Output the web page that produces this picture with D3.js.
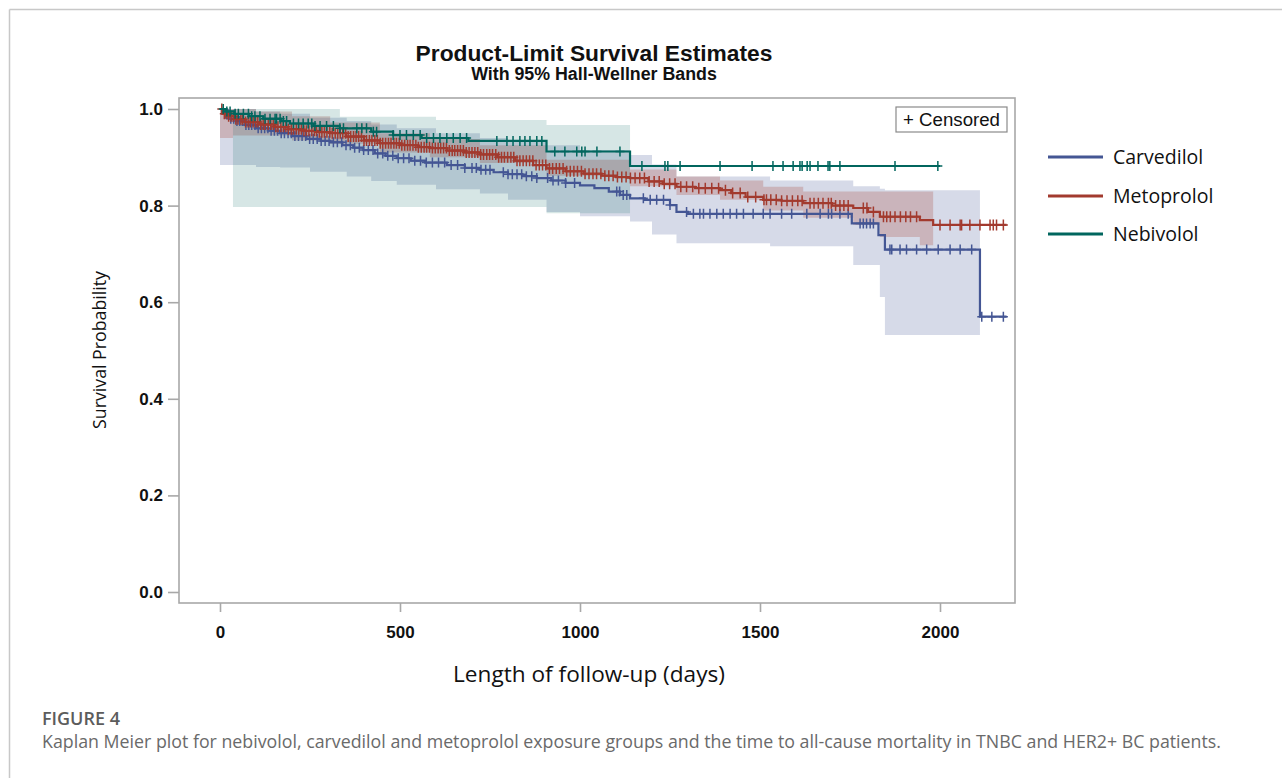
<!DOCTYPE html>
<html><head><meta charset="utf-8">
<script src="https://cdn.jsdelivr.net/npm/d3@7"></script>
<style>body{margin:0;background:#fff;} svg{display:block;}</style>
</head><body><svg id="c" width="1282" height="778"></svg>
<script>
// ---------- data ----------
const groups = ["Carvedilol", "Metoprolol", "Nebivolol"];
const xTicks = [0, 500, 1000, 1500, 2000];
const yTicks = [0, 0.2, 0.4, 0.6, 0.8, 1.0];

// Kaplan-Meier step estimates (time in days, survival after the step)
const carvTimes = [0,10,25,45,70,100,135,167,200,240,280,306,340,370,398,430,460,491,530,570,630,680,722,760,800,840,880,920,960,1000,1040,1080,1111,1139,1180,1250,1268,1300,1755,1829,1847,2111];
const carvSurv  = [1.0,0.990,0.980,0.975,0.967,0.960,0.955,0.950,0.944,0.938,0.934,0.931,0.925,0.920,0.915,0.908,0.903,0.898,0.893,0.889,0.884,0.878,0.874,0.869,0.865,0.861,0.857,0.852,0.847,0.842,0.836,0.829,0.822,0.815,0.812,0.801,0.787,0.783,0.763,0.739,0.709,0.570];
const carvEnd = 2185;

const metoTimes = [0,8,20,40,70,110,150,190,230,270,306,350,400,444,500,550,583,630,680,722,770,820,870,907,960,1010,1060,1100,1139,1190,1230,1268,1320,1389,1420,1460,1509,1560,1620,1700,1759,1800,1833,1944,1981];
const metoSurv  = [1.0,0.990,0.985,0.979,0.973,0.968,0.963,0.958,0.955,0.952,0.950,0.943,0.935,0.929,0.925,0.921,0.919,0.914,0.910,0.906,0.900,0.893,0.884,0.877,0.871,0.866,0.862,0.859,0.857,0.850,0.845,0.839,0.836,0.832,0.826,0.818,0.812,0.810,0.805,0.800,0.795,0.787,0.777,0.770,0.760];
const metoEnd = 2185;

const nebiTimes = [0,15,40,80,120,170,194,260,333,420,481,560,690,907,1139];
const nebiSurv  = [1.0,0.995,0.990,0.985,0.980,0.975,0.970,0.965,0.960,0.953,0.946,0.940,0.934,0.912,0.882];
const nebiEnd = 2000;

// 95% Hall-Wellner bands
const carvBandTimes = [0,100,167,250,352,420,491,600,722,800,907,1000,1139,1200,1268,1528,1759,1833,1847];
const carvBandLo    = [0.884,0.880,0.879,0.870,0.860,0.851,0.843,0.834,0.825,0.812,0.787,0.778,0.767,0.740,0.722,0.716,0.677,0.611,0.532];
const carvBandHi    = [1.0,0.995,0.990,0.982,0.975,0.968,0.960,0.950,0.940,0.932,0.925,0.915,0.905,0.885,0.860,0.852,0.840,0.835,0.832];
const carvBandEnd = 2111;

const metoBandTimes = [0,36,100,200,306,444,583,722,907,1139,1268,1389,1509,1620,1759,1833,1944];
const metoBandLo    = [0.940,0.945,0.945,0.935,0.928,0.910,0.900,0.888,0.862,0.840,0.822,0.812,0.790,0.775,0.760,0.735,0.718];
const metoBandHi    = [1.0,1.0,0.995,0.985,0.972,0.950,0.938,0.925,0.895,0.875,0.860,0.852,0.839,0.829,0.829,0.829,0.829];
const metoBandEnd = 1981;

const nebiBandTimes = [36,333,600,907];
const nebiBandLo    = [0.797,0.797,0.797,0.784];
const nebiBandHi    = [1.0,0.984,0.977,0.967];
const nebiBandEnd = 1139;

// censoring times
const carvCensor = [15,22,30,38,47,55,63,72,80,88,97,106,115,124,133,142,151,160,170,179,189,198,208,218,228,238,249,259,270,281,292,303,315,326,338,350,362,374,387,399,412,425,438,452,466,480,495,510,525,541,557,573,590,607,624,642,660,680,700,712,725,738,750,787,800,812,825,838,851,866,880,910,925,940,960,985,1102,1110,1120,1130,1176,1195,1213,1232,1250,1296,1315,1333,1343,1361,1380,1398,1417,1435,1454,1481,1509,1528,1560,1588,1630,1667,1690,1699,1722,1745,1778,1787,1796,1806,1815,1861,1866,1889,1907,1935,1963,1995,2028,2056,2088,2116,2144,2176];
const metoCensor = [5,12,18,24,31,37,44,50,58,63,71,78,84,92,99,105,113,120,126,134,141,148,155,161,169,176,183,190,198,204,212,219,226,233,240,247,255,262,268,276,283,290,297,305,312,320,327,334,341,349,356,363,371,378,385,393,400,407,415,422,430,437,445,452,460,468,475,483,490,498,505,513,521,528,536,544,551,559,567,574,582,590,598,606,613,621,629,637,645,652,660,668,676,684,692,700,708,716,724,732,741,749,757,766,774,782,790,799,808,816,825,833,842,851,860,869,878,887,896,905,915,924,934,943,953,963,973,983,993,1004,1014,1025,1036,1046,1058,1069,1080,1092,1104,1116,1128,1140,1153,1166,1179,1192,1206,1220,1234,1249,1264,1280,1296,1313,1330,1348,1366,1385,1404,1424,1445,1466,1488,1511,1518,1530,1545,1560,1575,1590,1605,1617,1639,1650,1662,1675,1690,1698,1710,1722,1733,1745,1787,1797,1815,1843,1852,1862,1875,1890,1905,1918,1935,2000,2028,2056,2060,2083,2111,2139,2148,2157,2176];
const nebiCensor = [9,19,28,42,51,65,79,88,97,111,125,139,153,157,167,176,185,204,218,231,245,255,264,278,296,315,333,343,380,394,407,426,435,481,500,518,537,556,574,593,611,630,648,667,685,769,797,814,833,847,861,880,894,930,958,991,1005,1014,1047,1111,1172,1236,1244,1278,1389,1478,1536,1564,1592,1611,1617,1631,1639,1661,1689,1694,1722,1875,1994];

// ---------- styles ----------
const colors = ["#445694", "#A23A2E", "#01665E"];
const bandOpacity = [0.22, 0.24, 0.16];
const markerHalfH = [5, 5.5, 5];

const svg = d3.select("#c");
const frame = {left: 179, top: 98, right: 1015, bottom: 603};
const x = d3.scaleLinear().domain([0, 2000]).range([220, 940]);
const y = d3.scaleLinear().domain([0, 1]).range([592, 109]);

function fit(sel, w) {
  const l = sel.node().getComputedTextLength();
  const fs = parseFloat(sel.attr("font-size"));
  sel.attr("font-size", (fs * w / l).toFixed(2));
  return sel;
}

// outer figure border
svg.append("line").attr("x1", 9.5).attr("x2", 1282).attr("y1", 9.5).attr("y2", 9.5).attr("stroke", "#c8c8c8").attr("stroke-width", 1.5);
svg.append("line").attr("x1", 9.5).attr("x2", 9.5).attr("y1", 9.5).attr("y2", 778).attr("stroke", "#c8c8c8").attr("stroke-width", 1.5);

// title
fit(svg.append("text").attr("x", 594).attr("y", 60.5).attr("text-anchor", "middle")
  .attr("font-family", "Liberation Sans, Arial, sans-serif").attr("font-weight", "bold")
  .attr("font-size", 22).attr("fill", "#111").text("Product-Limit Survival Estimates"), 357);
fit(svg.append("text").attr("x", 594).attr("y", 80).attr("text-anchor", "middle")
  .attr("font-family", "Liberation Sans, Arial, sans-serif").attr("font-weight", "bold")
  .attr("font-size", 15).attr("fill", "#111").text("With 95% Hall-Wellner Bands"), 246);

// plot frame background
svg.append("rect").attr("x", frame.left).attr("y", frame.top)
  .attr("width", frame.right - frame.left).attr("height", frame.bottom - frame.top)
  .attr("fill", "#fff");

svg.append("clipPath").attr("id", "clip").append("rect")
  .attr("x", frame.left).attr("y", frame.top)
  .attr("width", frame.right - frame.left).attr("height", frame.bottom - frame.top);
const plot = svg.append("g").attr("clip-path", "url(#clip)");

const bandArea = d3.area().x(d => x(d[0])).y0(d => y(d[1])).y1(d => y(d[2])).curve(d3.curveStepAfter);
const stepLine = d3.line().x(d => x(d[0])).y(d => y(d[1])).curve(d3.curveStepAfter);

const bands = [
  [carvBandTimes, carvBandLo, carvBandHi, carvBandEnd],
  [metoBandTimes, metoBandLo, metoBandHi, metoBandEnd],
  [nebiBandTimes, nebiBandLo, nebiBandHi, nebiBandEnd]
];
bands.forEach((b, i) => {
  const pts = b[0].map((t, k) => [t, b[1][k], b[2][k]]);
  const last = pts[pts.length - 1];
  pts.push([b[3], last[1], last[2]]);
  plot.append("path").attr("d", bandArea(pts)).attr("fill", colors[i]).attr("fill-opacity", bandOpacity[i]);
});

const curves = [
  [carvTimes, carvSurv, carvEnd, carvCensor],
  [metoTimes, metoSurv, metoEnd, metoCensor],
  [nebiTimes, nebiSurv, nebiEnd, nebiCensor]
];
curves.forEach((c, i) => {
  const pts = c[0].map((t, k) => [t, c[1][k]]);
  pts.push([c[2], pts[pts.length - 1][1]]);
  const g = plot.append("g");
  g.append("path").attr("d", stepLine(pts)).attr("fill", "none")
    .attr("stroke", colors[i]).attr("stroke-width", 2.2);
  const surv = t => c[1][Math.max(0, d3.bisectRight(c[0], t) - 1)];
  const hh = markerHalfH[i];
  g.selectAll("path.cens").data(c[3]).enter().append("path").attr("class", "cens")
    .attr("d", t => {
      const cx = x(t), cy = y(surv(t));
      return `M${cx},${cy - hh}V${cy + hh}M${cx - 4.5},${cy}H${cx + 4.5}`;
    })
    .attr("stroke", colors[i]).attr("stroke-width", 1.5).attr("fill", "none");
});

// frame
svg.append("rect").attr("x", frame.left).attr("y", frame.top)
  .attr("width", frame.right - frame.left).attr("height", frame.bottom - frame.top)
  .attr("fill", "none").attr("stroke", "#a8a8a8").attr("stroke-width", 1.6);

// axes
const yAxis = svg.append("g").attr("transform", `translate(${frame.left},0)`)
  .call(d3.axisLeft(y).tickValues(yTicks).tickFormat(d3.format(".1f")).tickSize(11).tickPadding(5));
const xAxis = svg.append("g").attr("transform", `translate(0,${frame.bottom})`)
  .call(d3.axisBottom(x).tickValues(xTicks).tickFormat(d3.format("d")).tickSize(9).tickPadding(14));
[yAxis, xAxis].forEach(a => {
  a.select(".domain").remove();
  a.selectAll(".tick line").attr("stroke", "#a8a8a8").attr("stroke-width", 1.6);
  a.selectAll(".tick text").attr("font-family", "Liberation Sans, Arial, sans-serif")
    .attr("font-weight", "bold").attr("font-size", 17).attr("fill", "#111");
});

// axis labels
fit(svg.append("text").attr("transform", "translate(106,350) rotate(-90)").attr("text-anchor", "middle")
  .attr("font-family", "Open Sans, sans-serif").attr("font-size", 17).attr("fill", "#111")
  .text("Survival Probability"), 158);
fit(svg.append("text").attr("x", 589).attr("y", 682).attr("text-anchor", "middle")
  .attr("font-family", "Open Sans, sans-serif").attr("font-size", 19).attr("fill", "#111")
  .text("Length of follow-up (days)"), 272);

// censored legend box
svg.append("rect").attr("x", 896).attr("y", 107).attr("width", 111).attr("height", 25)
  .attr("fill", "#fff").attr("stroke", "#8a8a8a").attr("stroke-width", 1.2);
fit(svg.append("text").attr("x", 903).attr("y", 125.5)
  .attr("font-family", "Liberation Sans, Arial, sans-serif").attr("font-size", 17).attr("fill", "#111")
  .text("+ Censored"), 97);

// group legend
const legY = [157, 196, 234];
groups.forEach((g, i) => {
  svg.append("line").attr("x1", 1048).attr("x2", 1103).attr("y1", legY[i]).attr("y2", legY[i])
    .attr("stroke", colors[i]).attr("stroke-width", 3);
  svg.append("text").attr("x", 1113).attr("y", legY[i]).attr("dy", "0.35em")
    .attr("font-family", "Open Sans, sans-serif").attr("font-size", 19.5).attr("fill", "#111").text(g);
});

// caption
fit(svg.append("text").attr("x", 42).attr("y", 725)
  .attr("font-family", "Open Sans, sans-serif").attr("font-weight", 600).attr("font-size", 16)
  .attr("fill", "#5c5c5c").text("FIGURE 4"), 78);
fit(svg.append("text").attr("x", 42).attr("y", 748)
  .attr("font-family", "Open Sans, sans-serif").attr("font-size", 15)
  .attr("fill", "#6a6a6a")
  .text("Kaplan Meier plot for nebivolol, carvedilol and metoprolol exposure groups and the time to all-cause mortality in TNBC and HER2+ BC patients."), 1180);
</script>
</body></html>
